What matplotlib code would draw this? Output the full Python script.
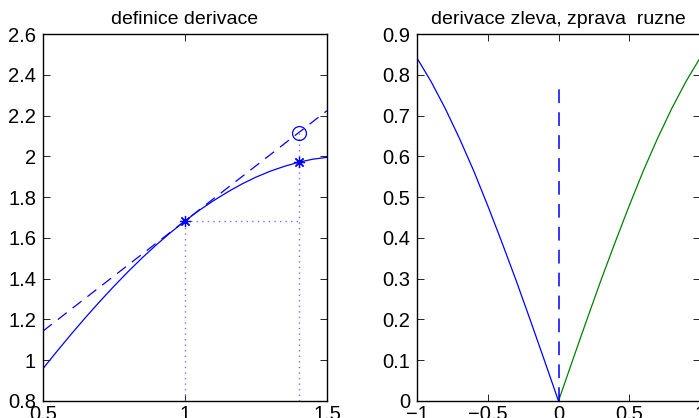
import matplotlib
matplotlib.use('Agg')
import matplotlib.pyplot as plt
from matplotlib.ticker import FuncFormatter

plt.rcParams['font.family'] = ['Liberation Sans', 'DejaVu Sans']
plt.rcParams['font.size'] = 14
plt.rcParams['axes.unicode_minus'] = True

# levy graf - funkce a tecna v bode x0 = 1
x_fun = [0.50, 0.55, 0.60, 0.65, 0.70, 0.75, 0.80, 0.85, 0.90, 0.95, 1.00,
         1.05, 1.10, 1.15, 1.20, 1.25, 1.30, 1.35, 1.40, 1.45, 1.50]
y_fun = [0.959, 1.045, 1.129, 1.210, 1.288, 1.363, 1.435, 1.503, 1.567, 1.627, 1.683,
         1.735, 1.782, 1.825, 1.864, 1.898, 1.927, 1.951, 1.971, 1.986, 1.995]
x_tec = [0.5, 1.5]
y_tec = [1.143, 2.224]
x0, y0 = 1.0, 1.683
x1, y1 = 1.4, 1.971
y1_tec = 2.115

# pravy graf - |sin x|
x_lev = [-1.0, -0.9, -0.8, -0.7, -0.6, -0.5, -0.4, -0.3, -0.2, -0.1, 0.0]
y_lev = [0.841, 0.783, 0.717, 0.644, 0.565, 0.479, 0.389, 0.296, 0.199, 0.100, 0.0]
x_prav = [0.0, 0.1, 0.2, 0.3, 0.4, 0.5, 0.6, 0.7, 0.8, 0.9, 1.0]
y_prav = [0.0, 0.100, 0.199, 0.296, 0.389, 0.479, 0.565, 0.644, 0.717, 0.783, 0.841]
y_svisla = [0.0, 0.78]

fig = plt.figure(figsize=(6.99, 4.18), dpi=100)
W, H = 699, 418
ax1 = fig.add_axes([43 / W, 1 - 401 / H, (327 - 43) / W, (401 - 34) / H])
ax2 = fig.add_axes([417 / W, 1 - 401 / H, (700 - 417) / W, (401 - 34) / H])

fmt = FuncFormatter(lambda v, p: ('%g' % round(v, 3)).replace('-', '\u2212'))
modra = 'blue'
teckovana = (0.45, 0.45, 1.0)
carkovana = (0, (9, 6))

# levy graf
ax1.plot(x_fun, y_fun, color=modra, lw=0.9)
ax1.plot(x_tec, y_tec, color=modra, lw=0.9, ls=carkovana)
ax1.plot([x0, x0], [0.8, y0], color=teckovana, lw=1.0, ls=(0, (1, 3)))
ax1.plot([x0, x1], [y0, y0], color=teckovana, lw=1.0, ls=(0, (1, 3)))
ax1.plot([x1, x1], [0.8, y1_tec], color=teckovana, lw=1.0, ls=(0, (1, 3)))
ax1.plot([x0, x1], [y0, y1], ls='none', marker=(8, 2, 0), color=modra, ms=8, mew=0.9)
ax1.plot([x1], [y1_tec], ls='none', marker='o', mfc='none', mec=modra, ms=10, mew=0.9)
ax1.set_xlim(0.5, 1.5)
ax1.set_ylim(0.8, 2.6)
ax1.set_xticks([0.5, 1, 1.5])
ax1.set_yticks([0.8, 1.0, 1.2, 1.4, 1.6, 1.8, 2.0, 2.2, 2.4, 2.6])
ax1.set_title('definice derivace', fontsize=14, pad=7)

# pravy graf
ax2.plot(x_lev, y_lev, color=modra, lw=0.9)
ax2.plot(x_prav, y_prav, color='#008000', lw=0.9)
ax2.plot([0, 0], y_svisla, color=modra, lw=1.1, ls=carkovana)
ax2.set_xlim(-1, 1)
ax2.set_ylim(0, 0.9)
ax2.set_xticks([-1, -0.5, 0, 0.5, 1])
ax2.set_yticks([0, 0.1, 0.2, 0.3, 0.4, 0.5, 0.6, 0.7, 0.8, 0.9])
ax2.set_title('derivace zleva, zprava  ruzne', fontsize=14, pad=7)

for ax in (ax1, ax2):
    ax.xaxis.set_major_formatter(fmt)
    ax.yaxis.set_major_formatter(fmt)
    ax.tick_params(direction='in', top=True, right=True, length=5, width=0.6,
                   labelsize=14.5, pad=5)
    ax.tick_params(axis='x', pad=3)
    for s in ax.spines.values():
        s.set_linewidth(1.0)

fig.savefig('out.png', dpi=100)
